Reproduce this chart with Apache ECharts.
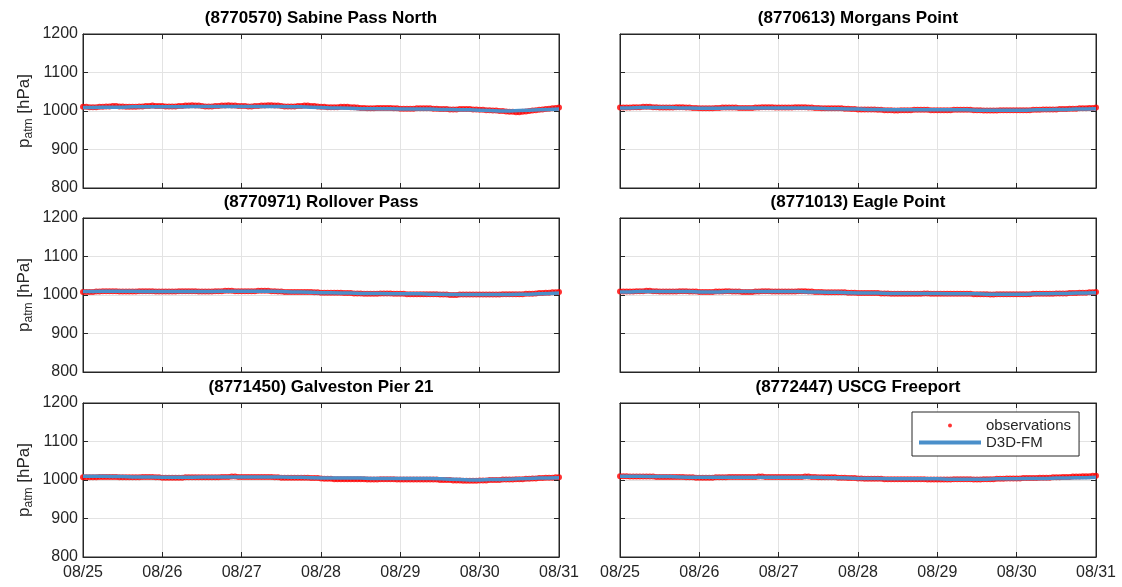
<!DOCTYPE html>
<html>
<head>
<meta charset="utf-8">
<title>Atmospheric pressure – observations vs D3D-FM</title>
<script src="https://cdn.jsdelivr.net/npm/echarts@6/dist/echarts.min.js"></script>
<style>
  html, body { margin: 0; padding: 0; background: #fff; }
  #chart { width: 1122px; height: 587px; }
</style>
</head>
<body>
<div id="chart"></div>
<script>
// Day tick labels along the time axis (value 0 = 08/25 00:00, in days)
const dayLabels = ['08/25', '08/26', '08/27', '08/28', '08/29', '08/30', '08/31'];
const yTicks = [800, 900, 1000, 1100, 1200];

const stationNames = [
  '(8770570) Sabine Pass North',
  '(8770613) Morgans Point',
  '(8770971) Rollover Pass',
  '(8771013) Eagle Point',
  '(8771450) Galveston Pier 21',
  '(8772447) USCG Freeport'
];

// Hourly observed pressure [hPa], 08/25 00:00 .. 08/31 00:00 (145 values)
const obsSabine = [
  1011,1011,1010,1010,1010,1011,1011,1012,1012,1013,1013,1012,1012,1011,1011,1011,1011,1012,1012,1013,1013,1014,1013,1013,
  1013,1012,1012,1012,1012,1013,1013,1014,1014,1015,1014,1014,1013,1012,1012,1012,1013,1013,1014,1014,1015,1014,1014,1013,
  1013,1013,1012,1012,1013,1013,1014,1014,1015,1015,1014,1014,1013,1012,1012,1012,1012,1013,1013,1014,1014,1013,1013,1012,
  1011,1011,1010,1010,1010,1010,1011,1011,1011,1010,1010,1009,1008,1008,1007,1007,1007,1008,1008,1008,1008,1008,1007,1007,
  1006,1006,1006,1006,1006,1007,1007,1007,1007,1007,1006,1006,1005,1005,1005,1004,1004,1004,1005,1005,1005,1005,1004,1004,
  1003,1003,1002,1002,1001,1001,1000,1000,999,998,998,997,997,998,999,1000,1001,1002,1003,1004,1005,1006,1007,1008,
  1009
];
const obsMorgans = [
  1009,1009,1009,1009,1010,1010,1010,1011,1011,1011,1010,1010,1009,1009,1009,1009,1009,1010,1010,1010,1009,1009,1008,1008,
  1007,1007,1007,1007,1007,1008,1008,1009,1009,1009,1009,1009,1008,1008,1008,1008,1008,1009,1009,1010,1010,1010,1010,1009,
  1009,1009,1009,1009,1009,1010,1010,1010,1010,1009,1009,1008,1008,1007,1007,1007,1007,1007,1007,1007,1006,1006,1005,1005,
  1004,1004,1004,1004,1004,1004,1003,1003,1002,1002,1002,1001,1001,1002,1002,1002,1002,1003,1003,1003,1003,1003,1002,1002,
  1002,1002,1002,1002,1002,1003,1003,1003,1003,1003,1003,1002,1002,1002,1001,1001,1001,1001,1001,1002,1002,1002,1002,1002,
  1002,1002,1002,1002,1002,1003,1003,1003,1004,1004,1004,1004,1004,1005,1005,1005,1006,1006,1006,1007,1007,1007,1008,1008,
  1009
];
const obsRollover = [
  1008,1008,1008,1008,1009,1009,1010,1010,1010,1010,1010,1009,1009,1009,1009,1009,1009,1010,1010,1010,1010,1010,1009,1009,
  1009,1009,1009,1009,1009,1010,1010,1010,1010,1010,1010,1009,1009,1009,1009,1009,1010,1010,1010,1011,1011,1011,1010,1010,
  1010,1010,1010,1010,1010,1011,1011,1011,1011,1010,1010,1009,1009,1008,1008,1008,1008,1008,1008,1008,1008,1008,1007,1007,
  1006,1006,1006,1006,1006,1006,1006,1005,1005,1005,1004,1004,1004,1003,1003,1003,1003,1003,1004,1004,1004,1004,1003,1003,
  1003,1003,1002,1002,1002,1002,1002,1002,1002,1002,1002,1002,1001,1001,1001,1000,1000,1000,1001,1001,1001,1001,1001,1001,
  1001,1001,1001,1001,1001,1001,1001,1002,1002,1002,1002,1002,1002,1002,1003,1003,1003,1004,1005,1005,1006,1006,1007,1007,
  1008
];
const obsEagle = [
  1009,1009,1009,1009,1009,1010,1010,1010,1011,1011,1010,1010,1009,1009,1009,1009,1009,1009,1010,1010,1010,1009,1009,1009,
  1008,1008,1008,1008,1008,1009,1009,1009,1010,1010,1009,1009,1009,1008,1008,1008,1008,1009,1009,1010,1010,1010,1009,1009,
  1009,1009,1009,1009,1009,1009,1010,1010,1010,1009,1009,1008,1008,1008,1007,1007,1007,1007,1007,1007,1007,1006,1006,1006,
  1005,1005,1005,1005,1005,1005,1005,1004,1004,1004,1003,1003,1003,1003,1003,1003,1003,1003,1003,1003,1004,1004,1003,1003,
  1003,1003,1003,1003,1003,1003,1003,1003,1003,1003,1003,1002,1002,1002,1002,1002,1001,1001,1002,1002,1002,1002,1002,1002,
  1002,1002,1002,1002,1002,1003,1003,1003,1003,1003,1003,1003,1004,1004,1004,1004,1005,1005,1005,1006,1006,1006,1007,1007,
  1008
];
const obsGalveston = [
  1007,1007,1007,1007,1007,1008,1008,1008,1008,1008,1008,1007,1007,1007,1007,1007,1007,1007,1008,1008,1008,1008,1007,1007,
  1006,1006,1006,1006,1006,1006,1006,1007,1007,1007,1007,1007,1007,1007,1007,1007,1007,1007,1008,1008,1008,1009,1009,1008,
  1008,1008,1008,1008,1008,1008,1008,1008,1008,1008,1007,1007,1006,1006,1006,1006,1006,1006,1006,1006,1006,1005,1005,1005,
  1004,1003,1003,1003,1002,1002,1002,1002,1002,1002,1002,1002,1002,1002,1001,1001,1001,1001,1002,1002,1002,1002,1002,1001,
  1001,1001,1001,1001,1001,1001,1001,1001,1001,1001,1001,1001,1000,1000,1000,1000,999,999,999,998,998,998,998,998,
  999,999,999,1000,1000,1000,1000,1001,1001,1001,1001,1002,1002,1002,1003,1003,1004,1004,1005,1005,1006,1006,1006,1007,
  1007
];
const obsFreeport = [
  1010,1010,1010,1009,1009,1009,1009,1009,1009,1009,1009,1008,1008,1008,1008,1008,1008,1008,1008,1008,1007,1007,1007,1006,
  1006,1006,1006,1006,1006,1007,1007,1007,1007,1008,1008,1008,1008,1008,1008,1008,1008,1008,1009,1009,1008,1008,1008,1008,
  1008,1008,1008,1008,1008,1008,1008,1008,1009,1009,1008,1008,1007,1007,1007,1007,1007,1007,1006,1006,1006,1005,1005,1005,
  1004,1004,1003,1003,1003,1003,1003,1003,1002,1002,1002,1002,1002,1002,1002,1002,1002,1002,1002,1002,1002,1001,1001,1001,
  1001,1001,1001,1001,1001,1002,1002,1002,1002,1002,1002,1001,1001,1001,1002,1002,1002,1002,1003,1003,1003,1004,1004,1004,
  1004,1004,1005,1005,1005,1005,1005,1006,1006,1006,1006,1007,1007,1007,1008,1008,1008,1009,1009,1009,1010,1010,1010,1011,
  1011
];

// Three-hourly D3D-FM model pressure [hPa], 08/25 00:00 .. 08/31 00:00 (49 values)
const modSabine = [
  1009,1009,1010,1010,1010,1011,1011,1011, 1011,1011,1011,1012,1012,1012,1012,1012,
  1012,1012,1012,1012,1012,1011,1011,1010, 1009,1008,1008,1007,1006,1006,1006,1006,
  1005,1005,1005,1005,1004,1004,1003,1003, 1002,1001,1000,1000,1001,1002,1003,1004, 1005
];
const modMorgans = [
  1008,1008,1009,1009,1009,1009,1008,1008, 1007,1007,1007,1008,1008,1008,1008,1008,
  1008,1008,1008,1008,1007,1006,1006,1005, 1005,1004,1004,1003,1003,1003,1003,1003,
  1003,1003,1003,1003,1002,1002,1002,1002, 1002,1002,1003,1003,1004,1004,1005,1005, 1006
];
const modRollover = [
  1009,1009,1010,1010,1010,1010,1009,1009, 1009,1009,1009,1009,1009,1009,1010,1010,
  1010,1010,1010,1010,1009,1008,1008,1007, 1006,1006,1005,1005,1004,1004,1004,1003,
  1003,1003,1003,1002,1002,1001,1001,1001, 1001,1001,1001,1001,1002,1002,1003,1004, 1005
];
const modEagle = [
  1008,1008,1009,1009,1009,1009,1009,1009, 1008,1008,1008,1009,1009,1009,1009,1009,
  1009,1009,1009,1008,1008,1007,1007,1006, 1005,1005,1005,1004,1004,1004,1004,1004,
  1004,1003,1003,1003,1003,1002,1002,1002, 1002,1002,1003,1003,1004,1004,1005,1005, 1006
];
const modGalveston = [
  1010,1010,1010,1009,1009,1008,1008,1008, 1007,1007,1007,1007,1008,1008,1008,1008,
  1008,1008,1008,1008,1008,1007,1007,1006, 1005,1005,1005,1005,1005,1004,1004,1004,
  1004,1004,1004,1004,1003,1002,1001,1000, 1000,1001,1001,1002,1003,1004,1005,1005, 1006
];
const modFreeport = [
  1010,1010,1010,1009,1009,1009,1008,1007, 1007,1007,1007,1007,1007,1007,1007,1007,
  1007,1007,1007,1007,1007,1006,1006,1005, 1004,1004,1004,1003,1003,1003,1003,1003,
  1003,1002,1002,1002,1002,1002,1003,1003, 1003,1004,1004,1004,1005,1005,1006,1006, 1007
];

const obsSeries = [obsSabine, obsMorgans, obsRollover, obsEagle, obsGalveston, obsFreeport];
const modSeries = [modSabine, modMorgans, modRollover, modEagle, modGalveston, modFreeport];

// ---- layout of the 3 x 2 panel grid ----
const colLeft = [83, 620];
const colWidth = 476;
const rowTop = [34, 218, 403];
const rowHeight = 154;

const ink = '#262626';
const gridInk = '#e3e3e3';
const font = '"Liberation Sans", Arial, Helvetica, sans-serif';
const obsColor = '#ff0000';
const modColor = '#4a8fca';

const toXY = (vals, stepHours) => vals.map((v, i) => [i * stepHours / 24, v]);

const grids = [], xAxes = [], yAxes = [], series = [], titles = [];

// inward-pointing tick marks, MATLAB style
const tickIn = { show: true, inside: true, length: 5, lineStyle: { color: ink, width: 1 } };
const frameLine = { show: true, onZero: false, lineStyle: { color: ink, width: 1 } };

stationNames.forEach((name, k) => {
  const col = k % 2, row = Math.floor(k / 2);
  const left = colLeft[col], top = rowTop[row];
  grids.push({
    left: left, top: top, width: colWidth, height: rowHeight,
    show: true, borderColor: ink, borderWidth: 1, backgroundColor: '#fff'
  });
  titles.push({
    text: name,
    left: left + colWidth / 2, top: top - 24,
    textAlign: 'center', padding: 0,
    textStyle: { fontFamily: font, fontSize: 17, fontWeight: 'bold', color: '#000' }
  });

  const showX = row === 2;
  const showY = col === 0;
  // bottom x axis
  xAxes.push({
    gridIndex: k, type: 'value', min: 0, max: 6, interval: 1, position: 'bottom',
    axisLine: frameLine,
    axisTick: tickIn,
    axisLabel: {
      show: showX, margin: 8, showMinLabel: true, showMaxLabel: true,
      formatter: v => dayLabels[Math.round(v)],
      fontFamily: font, fontSize: 16, color: ink
    },
    splitLine: { show: true, lineStyle: { color: gridInk, width: 1 } }
  });
  // top x axis (ticks only)
  xAxes.push({
    gridIndex: k, type: 'value', min: 0, max: 6, interval: 1, position: 'top',
    axisLine: frameLine,
    axisTick: tickIn,
    axisLabel: { show: false }, splitLine: { show: false }
  });
  // left y axis
  yAxes.push({
    gridIndex: k, type: 'value', min: yTicks[0], max: yTicks[yTicks.length - 1], interval: 100,
    position: 'left',
    axisLine: frameLine,
    axisTick: tickIn,
    axisLabel: {
      show: showY, margin: 5, fontFamily: font, fontSize: 16, color: ink,
      formatter: v => String(v)
    },
    splitLine: { show: true, lineStyle: { color: gridInk, width: 1 } },
    name: showY ? '{m|p}{s|atm}{m| [hPa]}' : '',
    nameLocation: 'middle', nameGap: 48, nameRotate: 90,
    nameTextStyle: {
      fontFamily: font, color: ink,
      rich: {
        m: { fontFamily: font, fontSize: 17, color: ink, lineHeight: 22, verticalAlign: 'middle' },
        s: { fontFamily: font, fontSize: 12, color: ink, lineHeight: 12, verticalAlign: 'bottom' }
      }
    }
  });
  // right y axis (ticks only)
  yAxes.push({
    gridIndex: k, type: 'value', min: yTicks[0], max: yTicks[yTicks.length - 1], interval: 100,
    position: 'right',
    axisLine: frameLine,
    axisTick: tickIn,
    axisLabel: { show: false }, splitLine: { show: false }
  });

  series.push({
    name: 'observations', type: 'scatter',
    xAxisIndex: 2 * k, yAxisIndex: 2 * k,
    data: toXY(obsSeries[k], 1),
    symbol: 'circle', symbolSize: 6,
    itemStyle: { color: obsColor },
    silent: true, animation: false, z: 2
  });
  series.push({
    name: 'D3D-FM', type: 'line',
    xAxisIndex: 2 * k, yAxisIndex: 2 * k,
    data: toXY(modSeries[k], 3),
    showSymbol: false, symbol: 'none',
    lineStyle: { color: modColor, width: 3.5 },
    itemStyle: { color: modColor },
    silent: true, animation: false, z: 3
  });
});

const chart = echarts.init(document.getElementById('chart'), null, { renderer: 'canvas' });
chart.setOption({
  animation: false,
  backgroundColor: '#fff',
  title: titles,
  grid: grids,
  xAxis: xAxes,
  yAxis: yAxes,
  legend: {
    orient: 'vertical',
    left: 912, top: 412,
    padding: [5, 8, 5, 7],
    itemGap: 0,
    itemWidth: 62, itemHeight: 4,
    backgroundColor: '#fff',
    borderColor: ink, borderWidth: 1, borderRadius: 0,
    textStyle: { fontFamily: font, fontSize: 15, color: ink, lineHeight: 17 },
    selectedMode: false,
    data: [
      { name: 'observations', icon: 'circle' },
      { name: 'D3D-FM', icon: 'rect' }
    ]
  },
  series: series
});
</script>
</body>
</html>
